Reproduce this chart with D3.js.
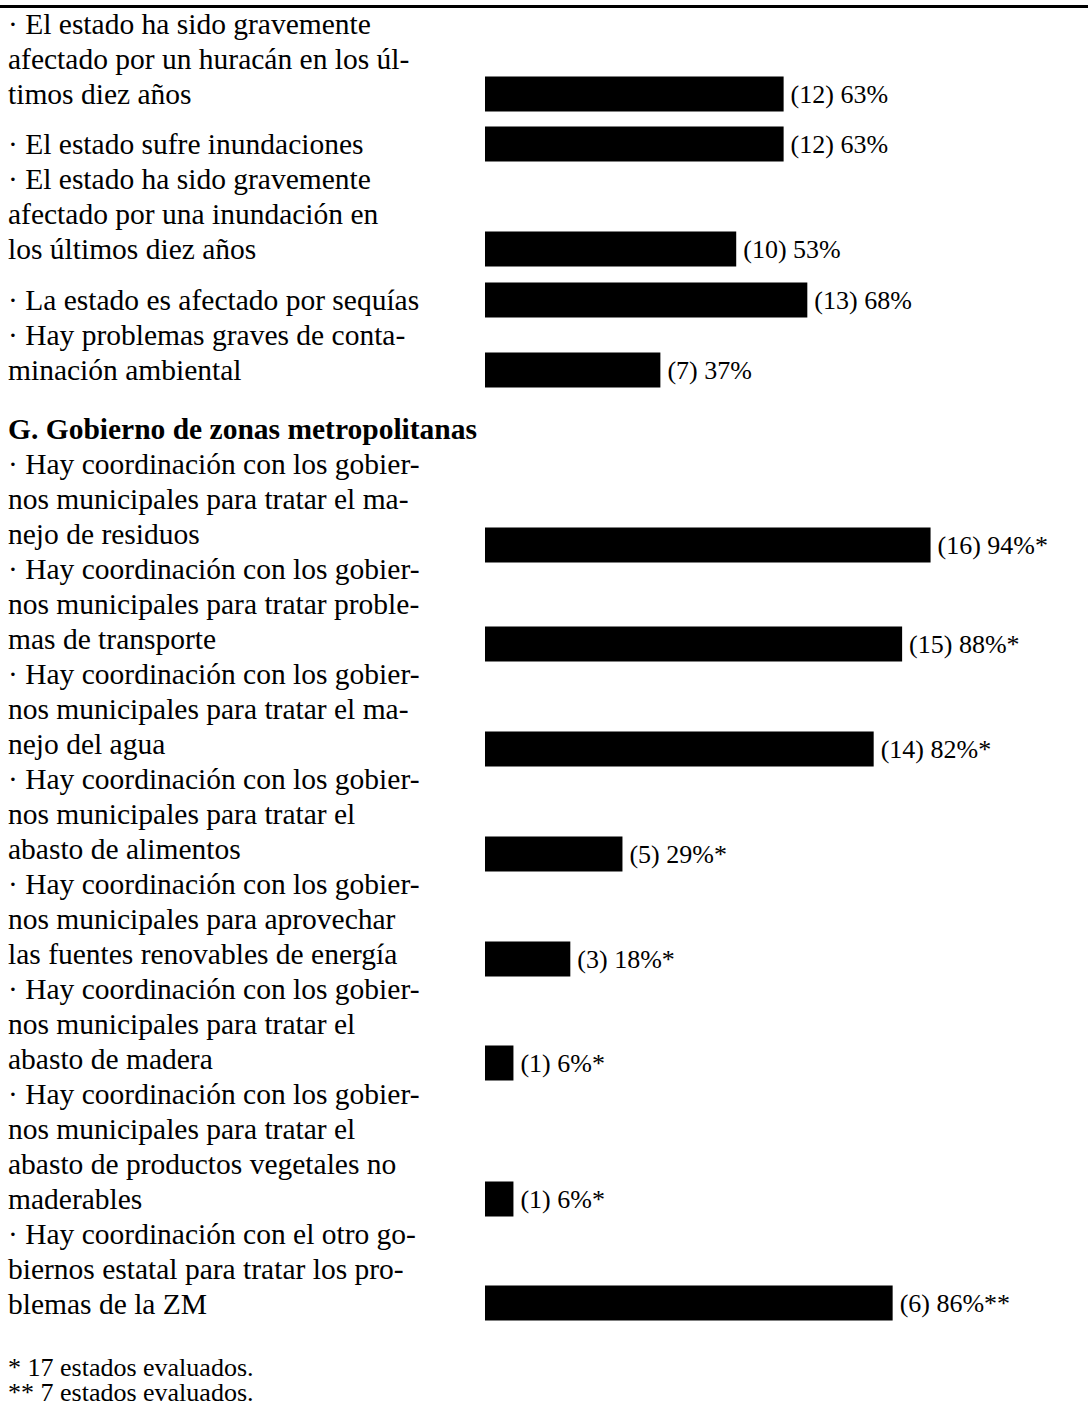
<!DOCTYPE html>
<meta charset="utf-8">
<html>
<head>
<style>
body { margin: 0; background: #fff; }
svg { display: block; }
text { font-family: "Liberation Serif", "Times New Roman", serif; fill: #000; }
</style>
</head>
<body>
<svg></svg>
<script src="https://cdn.jsdelivr.net/npm/d3@7"></script>
<script>

// texto de cada renglón (ya partido como en el original)
var items = [
  ["· El estado ha sido gravemente", "afectado por un huracán en los úl-", "timos diez años"],
  ["· El estado sufre inundaciones"],
  ["· El estado ha sido gravemente", "afectado por una inundación en", "los últimos diez años"],
  ["· La estado es afectado por sequías"],
  ["· Hay problemas graves de conta-", "minación ambiental"],
  ["· Hay coordinación con los gobier-", "nos municipales para tratar el ma-", "nejo de residuos"],
  ["· Hay coordinación con los gobier-", "nos municipales para tratar proble-", "mas de transporte"],
  ["· Hay coordinación con los gobier-", "nos municipales para tratar el ma-", "nejo del agua"],
  ["· Hay coordinación con los gobier-", "nos municipales para tratar el", "abasto de alimentos"],
  ["· Hay coordinación con los gobier-", "nos municipales para aprovechar", "las fuentes renovables de energía"],
  ["· Hay coordinación con los gobier-", "nos municipales para tratar el", "abasto de madera"],
  ["· Hay coordinación con los gobier-", "nos municipales para tratar el", "abasto de productos vegetales no", "maderables"],
  ["· Hay coordinación con el otro go-", "biernos estatal para tratar los pro-", "blemas de la ZM"]
];
var counts   = [12, 12, 10, 13, 7, 16, 15, 14, 5, 3, 1, 1, 6];
var percents = [63, 63, 53, 68, 37, 94, 88, 82, 29, 18, 6, 6, 86];
var marks    = ["", "", "", "", "", "*", "*", "*", "*", "*", "*", "*", "**"];

var heading = "G. Gobierno de zonas metropolitanas";
var headingBefore = 5;   // el encabezado va antes del item 5
var notes = ["* 17 estados evaluados.", "** 7 estados evaluados."];

// espacio extra (px) antes de cada item, y pequeño desfase de la barra
var gapBefore = [0, 15, 0, 16, 0, 24, 0, 0, 0, 0, 0, 0, 0];
var barShift  = [0, 0, 0, 0, 0, 11, 5, 5, 5, 5, 4, 0, -1];

var W = 1088, H = 1408;
var lh = 35, y0 = 34, fs = 29.5;

var svg = d3.select("svg").attr("width", W).attr("height", H);
svg.append("rect").attr("width", W).attr("height", H).attr("fill", "#fff");

// raya superior
svg.append("rect").attr("x", 0).attr("y", 5).attr("width", W).attr("height", 3).attr("fill", "#000");

var x = d3.scaleLinear().domain([0, 100]).range([485, 959]);

// posición de cada renglón
var rows = [];
var y = y0;
items.forEach(function(lines, i) {
  if (i > 0) y += lh + gapBefore[i];
  if (i == headingBefore) {
    rows.push({text: heading, y: y, bold: true});
    y += lh;
  }
  lines.forEach(function(t, j) {
    if (j > 0) y += lh;
    rows.push({text: t, y: y});
  });
  items[i].last = y;
});

svg.append("g").selectAll("text")
  .data(rows)
  .enter().append("text")
    .attr("x", 8)
    .attr("y", function(d) { return d.y; })
    .attr("font-size", fs)
    .attr("font-weight", function(d) { return d.bold ? "bold" : null; })
    .text(function(d) { return d.text; });

var data = percents.map(function(p, i) {
  return {p: p, n: counts[i], m: marks[i], y: items[i].last + barShift[i]};
});

var bh = 35;
var bar = svg.append("g").selectAll("g")
  .data(data)
  .enter().append("g");

bar.append("rect")
    .attr("x", x(0))
    .attr("y", function(d) { return d.y - 10 - bh / 2; })
    .attr("width", function(d) { return x(d.p) - x(0); })
    .attr("height", bh)
    .attr("fill", "#000");

bar.append("text")
    .attr("x", function(d) { return x(d.p) + 7; })
    .attr("y", function(d) { return d.y - 1; })
    .attr("font-size", 26)
    .text(function(d) { return "(" + d.n + ") " + d.p + "%" + d.m; });

// notas
svg.append("g").selectAll("text")
  .data(notes)
  .enter().append("text")
    .attr("x", 8)
    .attr("y", function(d, i) { return y + 62 + i * 25; })
    .attr("font-size", 26)
    .text(function(d) { return d; });

</script>
</body>
</html>
